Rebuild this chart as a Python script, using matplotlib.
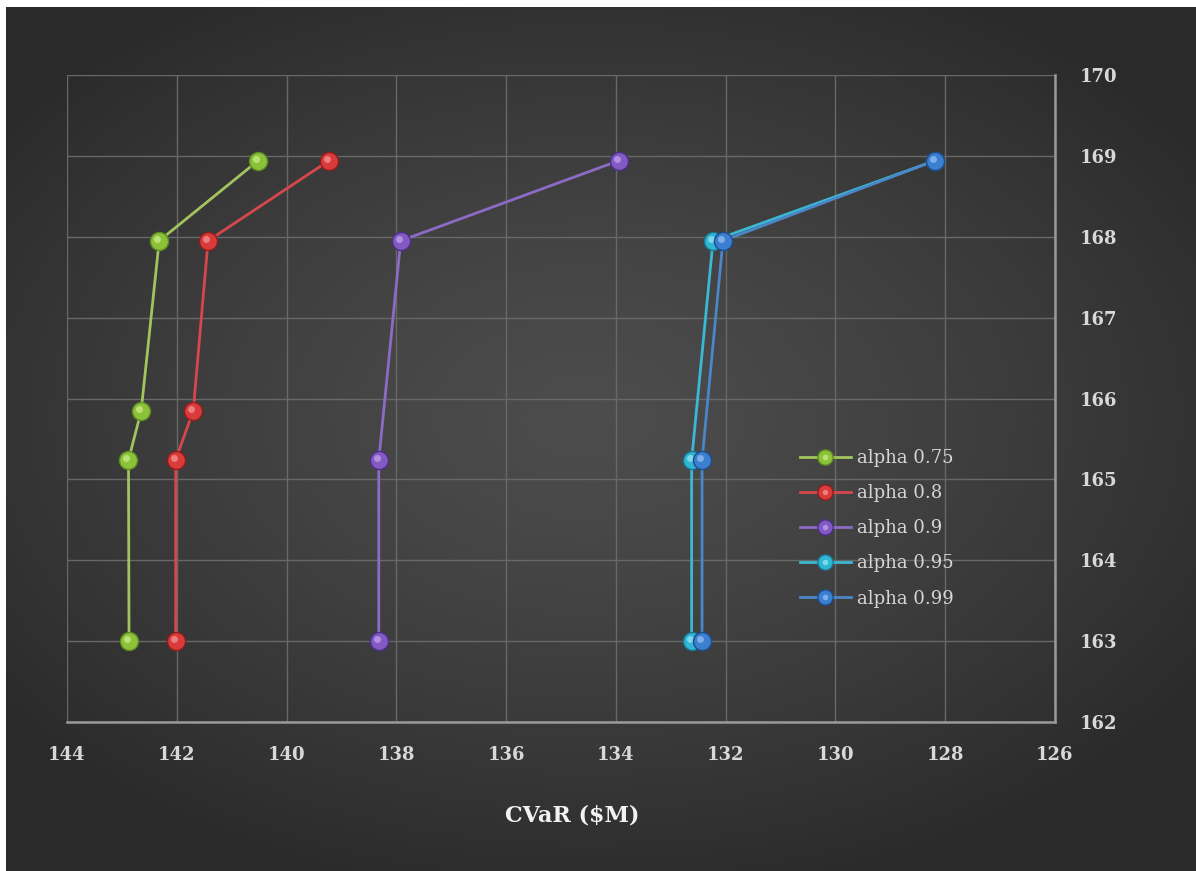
#!/usr/bin/env python3
# -*- coding: utf-8 -*-
"""Efficient frontier: CVaR vs expected value for several confidence levels."""

import numpy as np
import matplotlib
matplotlib.use('Agg')
import matplotlib.pyplot as plt
from matplotlib.transforms import ScaledTranslation
from matplotlib.legend_handler import HandlerTuple
from matplotlib.lines import Line2D

matplotlib.rcParams['font.family'] = ['DejaVu Serif']

# CVaR ($M) per frontier point, one list per alpha level
cvar_075 = [142.87, 142.88, 142.65, 142.32, 140.52]
cvar_080 = [142.02, 142.02, 141.70, 141.43, 139.23]
cvar_090 = [138.32, 138.32, 137.92, 133.95]
cvar_095 = [132.62, 132.62, 132.23, 128.19]
cvar_099 = [132.43, 132.43, 132.05, 128.19]

# expected value on the right-hand axis
value_075 = [163.0, 165.24, 165.84, 167.95, 168.94]
value_080 = [163.0, 165.24, 165.85, 167.95, 168.94]
value_090 = [163.0, 165.24, 167.95, 168.94]
value_095 = [163.0, 165.24, 167.95, 168.94]
value_099 = [163.0, 165.24, 167.95, 168.94]

labels = ['alpha 0.75', 'alpha 0.8', 'alpha 0.9', 'alpha 0.95', 'alpha 0.99']
x_ticks = [144, 142, 140, 138, 136, 134, 132, 130, 128, 126]
y_ticks = [162, 163, 164, 165, 166, 167, 168, 169, 170]

# (line, marker body, marker edge, highlight)
palette = [
    ('#a2c35e', '#8cc23a', '#5d8a22', '#c8ea86'),
    ('#d6474c', '#d93a3a', '#8e1d1d', '#f29090'),
    ('#8c6bc6', '#8359c4', '#4c2f86', '#b9a0e6'),
    ('#3ab8d4', '#2fb6d4', '#1a7690', '#8fe2f2'),
    ('#4a86c8', '#3a7fd0', '#1f4c8a', '#8fbaf0'),
]

W, H = 1196, 871
fig = plt.figure(figsize=(W / 100, H / 100), dpi=100)
fig.patch.set_facecolor('white')

# dark radial backdrop
bg = fig.add_axes([6 / W, 0, 1 - 6 / W, 1 - 7 / H])
bg.set_axis_off()
gx, gy = np.meshgrid(np.linspace(-1, 1, 600), np.linspace(-1, 1, 440))
r = np.sqrt(((gx + 0.02) / 1.15) ** 2 + ((gy + 0.05) / 1.05) ** 2)
shade = np.clip(0.30 - 0.12 * r ** 1.3, 0.165, 0.31)
bg.imshow(np.dstack([shade] * 3), aspect='auto', extent=[0, 1, 0, 1],
          interpolation='bicubic')
bg.set_xlim(0, 1)
bg.set_ylim(0, 1)

ax = fig.add_axes([67 / W, 1 - 722 / H, (1055 - 67) / W, (722 - 75) / H])
ax.set_facecolor('none')

xs = [cvar_075, cvar_080, cvar_090, cvar_095, cvar_099]
ys = [value_075, value_080, value_090, value_095, value_099]

shift = ScaledTranslation(-2 / 100, 2 / 100, fig.dpi_scale_trans)
handles = []
for i, (x, y, lab) in enumerate(zip(xs, ys, labels)):
    lc, mc, ec, hc = palette[i]
    ax.plot(x, y, color=lc, lw=2, zorder=3 + i * 0.1, solid_capstyle='round')
    ax.plot(x, y, ls='none', marker='o', ms=13, mfc=mc, mec=ec, mew=1.0,
            zorder=4 + i * 0.1)
    ax.plot(x, y, ls='none', marker='o', ms=5, mfc=hc, mec='none', alpha=0.8,
            transform=ax.transData + shift, zorder=4.05 + i * 0.1)
    h1 = Line2D([], [], color=lc, lw=2, marker='o', ms=11, mfc=mc, mec=ec, mew=1.0)
    h2 = Line2D([], [], ls='none', marker='o', ms=4, mfc=hc, mec='none', alpha=0.8)
    handles.append((h1, h2))

ax.set_xlim(144, 126)
ax.set_ylim(162, 170)
ax.set_xticks(x_ticks)
ax.set_yticks(y_ticks)
ax.yaxis.tick_right()
ax.tick_params(axis='both', length=0, colors='#d8d8d8', labelsize=13)
ax.tick_params(axis='x', pad=17)
ax.tick_params(axis='y', pad=18)
for t in ax.get_xticklabels() + ax.get_yticklabels():
    t.set_fontweight('bold')
ax.grid(True, color='#686868', lw=1.0, zorder=1)
ax.set_axisbelow(True)

for side in ['top', 'left']:
    ax.spines[side].set_visible(False)
for side in ['right', 'bottom']:
    ax.spines[side].set_color('#9a9a9a')
    ax.spines[side].set_linewidth(1.8)

fig.text(572 / W, 1 - 815 / H, 'CVaR ($M)', ha='center', va='center',
         color='#f2f2f2', fontsize=16, fontweight='bold')

ax.legend(handles, labels, handler_map={tuple: HandlerTuple(ndivide=1)},
          loc='upper left', bbox_to_anchor=(800 / W, 1 - 449 / H),
          bbox_transform=fig.transFigure, frameon=False, fontsize=13,
          labelcolor='#d6d6d6', handlelength=2.8, handletextpad=0.35,
          labelspacing=0.95, borderpad=0, borderaxespad=0)

fig.savefig('out.png', dpi=100, facecolor=fig.get_facecolor())
